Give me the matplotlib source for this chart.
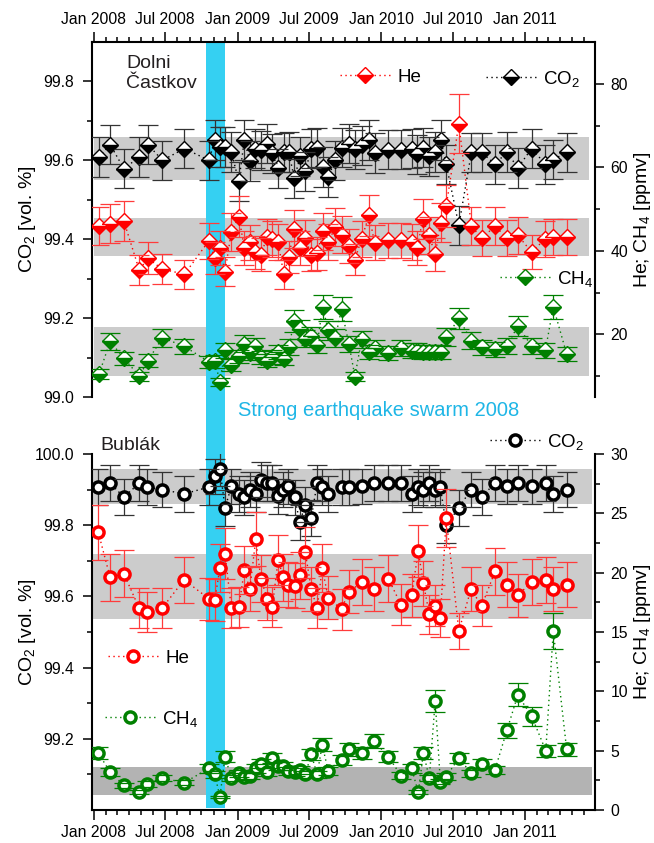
import numpy as np
import matplotlib
matplotlib.use('Agg')
import matplotlib.pyplot as plt
import matplotlib.dates as mdates
import matplotlib.transforms as mtransforms
from matplotlib.ticker import MultipleLocator, FixedLocator, FormatStrFormatter
from matplotlib.patches import Rectangle
from matplotlib.lines import Line2D

plt.rcParams['font.family'] = ['Liberation Sans', 'DejaVu Sans']
plt.rcParams['mathtext.default'] = 'regular'

BASE = np.datetime64('2008-01-01')

# ---------------- Dolni Častkov (top panel) ----------------
top_days = [14, 42, 77, 116, 138, 175, 231, 293, 308, 321,
            334, 350, 369, 383, 397, 411, 425, 441, 453, 469,
            483, 496, 510, 525, 538, 553, 568, 582, 596, 614,
            630, 649, 664, 681, 700, 714, 749, 781, 809, 823,
            836, 852, 868, 882, 896, 928, 960, 986, 1020, 1050,
            1078, 1113, 1148, 1168, 1202]
top_co2 = [99.608, 99.640, 99.579, 99.608, 99.640, 99.600, 99.630, 99.600, 99.652, 99.634,
           99.634, 99.621, 99.547, 99.651, 99.598, 99.630, 99.625, 99.642, 99.618, 99.580,
           99.620, 99.621, 99.554, 99.610, 99.572, 99.630, 99.632, 99.583, 99.558, 99.600,
           99.632, 99.642, 99.628, 99.638, 99.651, 99.619, 99.627, 99.627, 99.630, 99.615,
           99.632, 99.610, 99.621, 99.651, 99.590, 99.435, 99.620, 99.620, 99.590, 99.621,
           99.581, 99.630, 99.590, 99.602, 99.620]
top_he = [45.9, 46.5, 47.1, 35.4, 38.2, 35.6, 34.4, 42.4, 38.2, 40.6,
          35.0, 44.5, 48.2, 40.7, 42.0, 39.6, 39.1, 43.3, 42.9, 42.1,
          34.4, 38.6, 45.2, 40.7, 43.1, 39.0, 39.4, 44.7, 42.1, 45.6,
          43.9, 41.1, 37.9, 42.9, 48.5, 41.9, 42.5, 42.5, 42.1, 40.6,
          47.7, 43.7, 39.2, 46.7, 50.7, 70.4, 45.9, 43.0, 45.9, 43.1,
          43.7, 39.7, 42.9, 43.3, 43.3]
top_ch4 = [10.5, 18.3, 14.3, 10.0, 13.7, 19.2, 17.1, 13.4, 13.5, 8.7,
           16.2, 12.7, 14.7, 17.8, 15.5, 17.3, 14.5, 13.7, 14.6, 15.8,
           14.2, 17.0, 23.2, 21.2, 19.0, 19.6, 17.5, 26.6, 21.0, 19.2,
           26.0, 17.6, 9.9, 18.8, 15.8, 16.7, 15.5, 16.7, 16.1, 16.1,
           15.8, 15.8, 15.8, 15.8, 19.3, 23.8, 18.5, 16.9, 16.4, 17.2,
           22.0, 17.2, 16.2, 26.6, 15.3]

# ---------------- Bublák (bottom panel) ----------------
bot_days = [12, 42, 77, 116, 137, 174, 230, 293, 308, 321,
            334, 350, 369, 383, 397, 412, 425, 441, 454, 469,
            482, 494, 511, 524, 538, 553, 568, 581, 596, 630,
            648, 683, 713, 749, 781, 808, 825, 838, 853, 868,
            881, 896, 928, 959, 986, 1020, 1050, 1078, 1113, 1149,
            1168, 1202]
bot_co2 = [99.907, 99.918, 99.879, 99.918, 99.907, 99.900, 99.888, 99.907, 99.937, 99.959,
           99.848, 99.909, 99.888, 99.878, 99.900, 99.888, 99.928, 99.918, 99.918, 99.881,
           99.900, 99.909, 99.878, 99.808, 99.858, 99.820, 99.918, 99.907, 99.887, 99.907,
           99.908, 99.909, 99.919, 99.918, 99.918, 99.888, 99.907, 99.900, 99.919, 99.900,
           99.908, 99.800, 99.849, 99.900, 99.879, 99.919, 99.909, 99.918, 99.909, 99.918,
           99.888, 99.900]
bot_he = [23.4, 19.6, 19.9, 17.0, 16.7, 17.0, 19.4, 17.8, 17.7, 20.4,
          21.6, 17.0, 17.1, 20.2, 18.6, 22.8, 19.5, 17.8, 17.1, 21.1,
          19.6, 19.0, 18.9, 19.8, 21.7, 18.6, 17.0, 20.4, 17.9, 16.9,
          18.4, 19.2, 18.6, 19.5, 17.3, 18.1, 21.8, 19.1, 16.5, 17.2,
          16.2, 24.6, 15.1, 18.6, 17.2, 20.1, 19.0, 18.1, 19.2, 19.4,
          18.6, 19.0]
bot_ch4 = [4.8, 3.2, 2.1, 1.5, 2.2, 2.7, 2.3, 3.5, 3.0, 1.1,
           4.5, 2.7, 3.1, 2.8, 2.9, 3.5, 3.9, 3.2, 4.4, 3.7,
           3.7, 3.3, 3.2, 3.4, 3.0, 4.7, 3.0, 5.5, 3.3, 4.2,
           5.1, 4.8, 5.8, 4.5, 2.9, 3.5, 1.5, 4.8, 2.7, 9.2,
           2.4, 2.8, 4.4, 3.1, 3.9, 3.4, 6.7, 9.7, 7.9, 5.0,
           15.1, 5.1]

# uncertainties
CO2_ERR = 0.05
HE_REL_ERR = 0.10
CH4_REL_ERR_TOP = 0.11
CH4_REL_ERR_BOT = 0.10

# reference ranges (grey bands)
top_band_co2 = (99.549, 99.659)
top_band_he = (38.7, 47.9)
top_band_ch4 = (10.0, 21.8)
bot_band_co2 = (99.859, 99.958)
bot_band_he = (16.1, 21.6)
bot_band_ch4 = (1.3, 3.6)

swarm = ('2008-10-13', '2008-11-30')
xlim = ('2007-12-28', '2011-06-28')
date_ticks_months = [1, 7]

RED = '#ff0000'
GREEN = '#008000'
BLACK = '#000000'
BLUE = '#35d0f2'
GREY = '#cccccc'
GREY_DARK = '#b3b3b3'
DOTS = (0, (1, 2.5))

W, H = 654, 843
fig = plt.figure(figsize=(W / 100, H / 100), dpi=100)
ax_top = fig.add_axes([92 / W, 1 - 397 / H, 503 / W, 355 / H])
ax_bot = fig.add_axes([92 / W, 1 - 810 / H, 503 / W, 356 / H])
ax_top2 = ax_top.twinx()
ax_bot2 = ax_bot.twinx()


def to_dates(days):
    return BASE + np.array(days).astype('timedelta64[D]')


def series(ax, days, vals, err, color, ecolor, style):
    d = to_dates(days)
    v = np.asarray(vals, float)
    eb = ax.errorbar(d, v, yerr=err, fmt='none', ecolor=ecolor, elinewidth=0.9,
                     capsize=7, capthick=0.9, zorder=2)
    for c in eb[1]:
        c.set_zorder(4)
    ax.plot(d, v, linestyle=DOTS, lw=1.0, color=color, zorder=3, **style)


def diamond(color):
    return dict(marker='D', ms=8.5, fillstyle='bottom', markerfacecolor=color,
                markerfacecoloralt='white', markeredgecolor=color, markeredgewidth=1.0)


def circle(color):
    return dict(marker='o', ms=8, markerfacecolor='white', markeredgecolor=color,
                markeredgewidth=2.5)


def band(ax, yax, lims, color, x0, x1):
    tr = mtransforms.blended_transform_factory(ax.transAxes, yax.transData)
    ax.add_patch(Rectangle((x0, lims[0]), x1 - x0, lims[1] - lims[0], transform=tr,
                           facecolor=color, edgecolor='none', zorder=0.5))


def swarm_band(ax, y0, y1):
    tr = mtransforms.blended_transform_factory(ax.transData, ax.transAxes)
    x0 = mdates.date2num(np.datetime64(swarm[0]))
    x1 = mdates.date2num(np.datetime64(swarm[1]))
    ax.add_patch(Rectangle((x0, y0), x1 - x0, y1 - y0, transform=tr, facecolor=BLUE,
                           edgecolor='none', zorder=1, clip_on=False))


# limits
for a in (ax_top, ax_bot):
    a.set_xlim(np.datetime64(xlim[0]), np.datetime64(xlim[1]))
ax_top.set_ylim(99.0, 99.9)
ax_top2.set_ylim(5, 90)
ax_bot.set_ylim(99.0, 100.0)
ax_bot2.set_ylim(0, 30)

# bands
band(ax_top, ax_top, top_band_co2, GREY, 0.004, 0.988)
band(ax_top, ax_top2, top_band_he, GREY, 0.004, 0.988)
band(ax_top, ax_top2, top_band_ch4, GREY, 0.004, 0.988)
band(ax_bot, ax_bot, bot_band_co2, GREY, 0.002, 0.995)
band(ax_bot, ax_bot2, bot_band_he, GREY, 0.002, 0.995)
band(ax_bot, ax_bot2, bot_band_ch4, GREY_DARK, 0.002, 0.995)
swarm_band(ax_top, -57 / 355, 1.0)
swarm_band(ax_bot, 2 / 356, 1.0)

# top panel data
series(ax_top, top_days, top_co2, CO2_ERR, BLACK, '#333333', diamond(BLACK))
series(ax_top2, top_days, top_ch4, np.asarray(top_ch4) * CH4_REL_ERR_TOP, GREEN, GREEN,
       diamond(GREEN))
series(ax_top2, top_days, top_he, np.asarray(top_he) * HE_REL_ERR, RED, '#ff3b3b',
       diamond(RED))

# bottom panel data
series(ax_bot, bot_days, bot_co2, CO2_ERR, BLACK, '#333333', circle(BLACK))
series(ax_bot2, bot_days, bot_ch4, np.asarray(bot_ch4) * CH4_REL_ERR_BOT, GREEN, GREEN,
       circle(GREEN))
series(ax_bot2, bot_days, bot_he, np.asarray(bot_he) * HE_REL_ERR, RED, '#ff3b3b',
       circle(RED))

# spines
for a in (ax_top, ax_top2, ax_bot, ax_bot2):
    for s in a.spines.values():
        s.set_linewidth(1.5)
ax_top.spines['bottom'].set_visible(False)
ax_top.spines['right'].set_visible(False)
for s in ('left', 'top', 'bottom'):
    ax_top2.spines[s].set_visible(False)
ax_bot.spines['top'].set_visible(False)
ax_bot.spines['right'].set_visible(False)
for s in ('left', 'top', 'bottom'):
    ax_bot2.spines[s].set_visible(False)

# date axes
for a in (ax_top, ax_bot):
    a.xaxis.set_major_locator(mdates.MonthLocator(bymonth=date_ticks_months))
    a.xaxis.set_minor_locator(mdates.MonthLocator())
    a.xaxis.set_major_formatter(mdates.DateFormatter('%b %Y'))
    a.tick_params(axis='x', which='major', direction='out', length=7, width=1.1,
                  labelsize=11.3, pad=3.5)
    a.tick_params(axis='x', which='minor', direction='out', length=3.6, width=1.1)
ax_top.tick_params(axis='x', which='both', top=True, bottom=False,
                   labeltop=True, labelbottom=False)
ax_bot.tick_params(axis='x', which='both', top=False, bottom=True,
                   labeltop=False, labelbottom=True)

# y axes
ax_top.yaxis.set_major_locator(FixedLocator([99.0, 99.2, 99.4, 99.6, 99.8]))
ax_top.yaxis.set_minor_locator(FixedLocator([99.1, 99.3, 99.5, 99.7]))
ax_top2.yaxis.set_major_locator(FixedLocator([20, 40, 60, 80]))
ax_top2.yaxis.set_minor_locator(FixedLocator([10, 30, 50, 70]))
ax_bot.yaxis.set_major_locator(FixedLocator([99.2, 99.4, 99.6, 99.8, 100.0]))
ax_bot.yaxis.set_minor_locator(FixedLocator([99.1, 99.3, 99.5, 99.7, 99.9]))
ax_bot2.yaxis.set_major_locator(MultipleLocator(5))
ax_bot2.yaxis.set_minor_locator(MultipleLocator(2.5))
for a in (ax_top, ax_bot):
    a.yaxis.set_major_formatter(FormatStrFormatter('%.1f'))
    a.tick_params(axis='y', which='major', pad=6.5)
for a in (ax_top2, ax_bot2):
    a.yaxis.set_major_formatter(FormatStrFormatter('%d'))
    a.tick_params(axis='y', which='major', pad=4.5)
for a in (ax_top, ax_bot, ax_top2, ax_bot2):
    a.tick_params(axis='y', which='major', direction='out', length=6.5, width=1.1,
                  labelsize=11.3)
    a.tick_params(axis='y', which='minor', direction='out', length=3.6, width=1.1)

# axis labels
for a in (ax_top, ax_bot):
    a.set_ylabel('CO$_2$ [vol. %]', fontsize=14)
    a.yaxis.set_label_coords(-0.108, 0.5)
for a in (ax_top2, ax_bot2):
    a.set_ylabel('He; CH$_4$ [ppmv]', fontsize=14)
    a.yaxis.set_label_coords(1.074, 0.5)

# texts
fig.text(126 / W, 1 - 55 / H, 'Dolni\nČastkov', fontsize=14, color='#231f20',
         va='top', ha='left', linespacing=1.2)
fig.text(100 / W, 1 - 450 / H, 'Bublák', fontsize=14, color='#231f20',
         va='baseline', ha='left')
fig.text(238 / W, 1 - 410 / H, 'Strong earthquake swarm 2008', fontsize=14.5,
         color='#1fb6e6', va='center', ha='left')


# legends
def legend(style, color, label, x_px, y_px):
    h = Line2D([], [], linestyle=DOTS, lw=1.0, color=color, **style)
    lg = fig.legend([h], [label], loc='center left',
                    bbox_to_anchor=(x_px / W, 1 - y_px / H), bbox_transform=fig.transFigure,
                    frameon=False, fontsize=13.5, handlelength=2.7, handletextpad=0.35,
                    borderpad=0, borderaxespad=0, numpoints=1)
    return lg


legend(diamond(RED), RED, 'He', 340, 77)
legend(diamond(BLACK), BLACK, 'CO$_2$', 486, 79)
legend(diamond(GREEN), GREEN, 'CH$_4$', 500, 279)
legend(circle(BLACK), BLACK, 'CO$_2$', 490, 442)
legend(circle(RED), RED, 'He', 108, 658)
legend(circle(GREEN), GREEN, 'CH$_4$', 105, 719)

fig.savefig('out.png', dpi=100)
